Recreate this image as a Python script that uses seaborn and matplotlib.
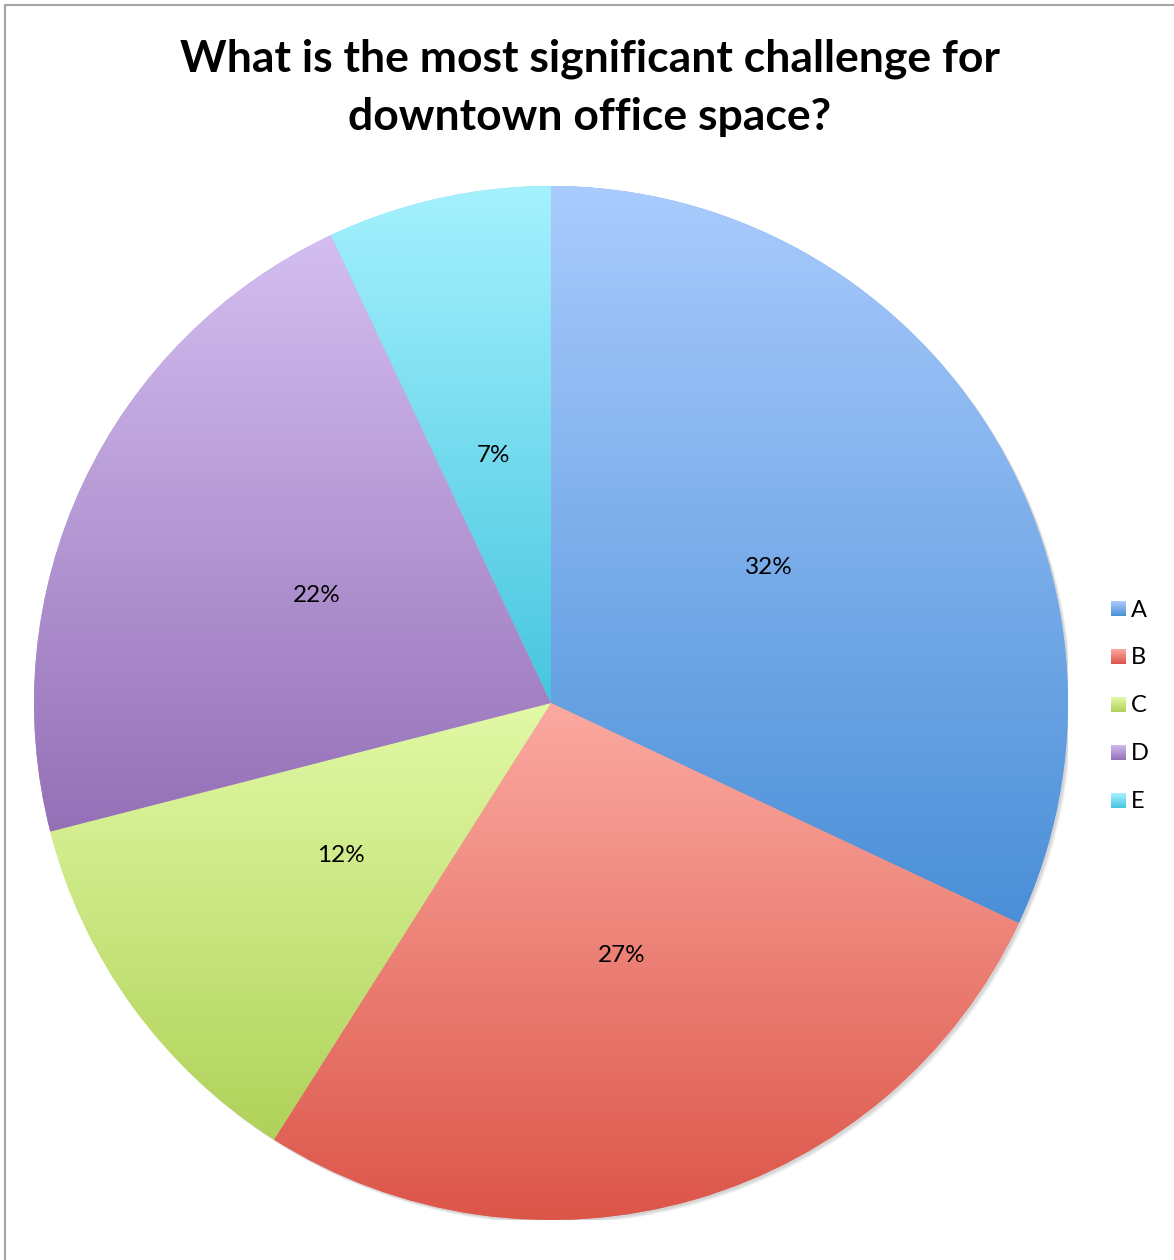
import numpy as np
import matplotlib
matplotlib.use("Agg")
import matplotlib.pyplot as plt
from matplotlib.colors import LinearSegmentedColormap
from matplotlib.lines import Line2D
from matplotlib.patches import Circle
import seaborn as sns

# Survey responses
categories = ["A", "B", "C", "D", "E"]
shares = [32, 27, 12, 22, 7]
value_labels = ["32%", "27%", "12%", "22%", "7%"]

# Top (light) and bottom (dark) colour of each slice's vertical gradient
top_colors = ["#aacbfd", "#fbaaa1", "#e2f9a6", "#d4bef0", "#a5f1fe"]
bottom_colors = ["#4a8fd7", "#dc5448", "#afd259", "#9570b7", "#47c6df"]

sns.set_theme(style="white")
plt.rcParams["font.family"] = ["Lato", "DejaVu Sans"]

W, H = 1174, 1260
fig = plt.figure(figsize=(W / 100, H / 100), dpi=100)
fig.patch.set_facecolor("white")

cx, cy, r = 551, 703, 517
ax = fig.add_axes([(cx - r) / W, (H - cy - r) / H, 2 * r / W, 2 * r / H])

# soft drop shadow behind the pie
for k, a in [(4, 0.10), (3, 0.12), (2, 0.15)]:
    ax.add_patch(Circle((k / r, -k / r), 1.0, facecolor="#808080",
                        edgecolor="none", alpha=a, zorder=0))

mid_colors = [sns.blend_palette([t, b], 3)[1] for t, b in zip(top_colors, bottom_colors)]
wedges, _ = ax.pie(shares, startangle=90, counterclock=False, radius=1,
                   colors=mid_colors, wedgeprops=dict(linewidth=0), normalize=True)
ax.set_axis_off()

for w, t, b in zip(wedges, top_colors, bottom_colors):
    w.set_zorder(1)
    verts = w.get_path().vertices
    ys = verts[:, 1]
    ymin, ymax = ys.min(), ys.max()
    cmap = LinearSegmentedColormap.from_list("g", [b, t])
    grad = np.linspace(0, 1, 256).reshape(-1, 1)
    im = ax.imshow(grad, cmap=cmap, origin="lower", aspect="auto",
                   extent=(-1, 1, ymin, ymax), zorder=2, interpolation="bilinear")
    im.set_clip_path(w)
ax.set_xlim(-1, 1)
ax.set_ylim(-1, 1)
ax.set_aspect("auto")

# percentage labels
label_pos = [(769, 568), (622, 955), (341, 856), (317, 596), (493, 455)]
for (px, py), txt in zip(label_pos, value_labels):
    fig.text(px / W, 1 - py / H, txt, ha="center", va="center",
             fontsize=17.5, color="black", zorder=5)

# title
fig.text(590 / W, 1 - 59 / H, "What is the most significant challenge for",
         ha="center", va="center", fontsize=32, fontweight="bold", color="black")
fig.text(590 / W, 1 - 117 / H, "downtown office space?",
         ha="center", va="center", fontsize=32, fontweight="bold", color="black")

# legend
legend_y = [609, 657, 705, 753, 801]
for cat, t, b, ly in zip(categories, top_colors, bottom_colors, legend_y):
    sq = fig.add_axes([1111 / W, 1 - (ly + 7) / H, 15 / W, 15 / H])
    cmap = LinearSegmentedColormap.from_list("g", [b, t])
    sq.imshow(np.linspace(0, 1, 32).reshape(-1, 1), cmap=cmap, origin="lower",
              aspect="auto", interpolation="bilinear")
    sq.set_axis_off()
    fig.text(1131 / W, 1 - (ly + 1) / H, cat, ha="left", va="center",
             fontsize=17, color="black")

# chart frame (left and top edges)
fig.add_artist(Line2D([5 / W, 5 / W], [0, 1 - 5 / H], transform=fig.transFigure,
                      color="#a6a6a6", linewidth=1.5))
fig.add_artist(Line2D([5 / W, 1], [1 - 5 / H, 1 - 5 / H], transform=fig.transFigure,
                      color="#a6a6a6", linewidth=1.5))

fig.savefig("out.png", dpi=100, facecolor="white")
